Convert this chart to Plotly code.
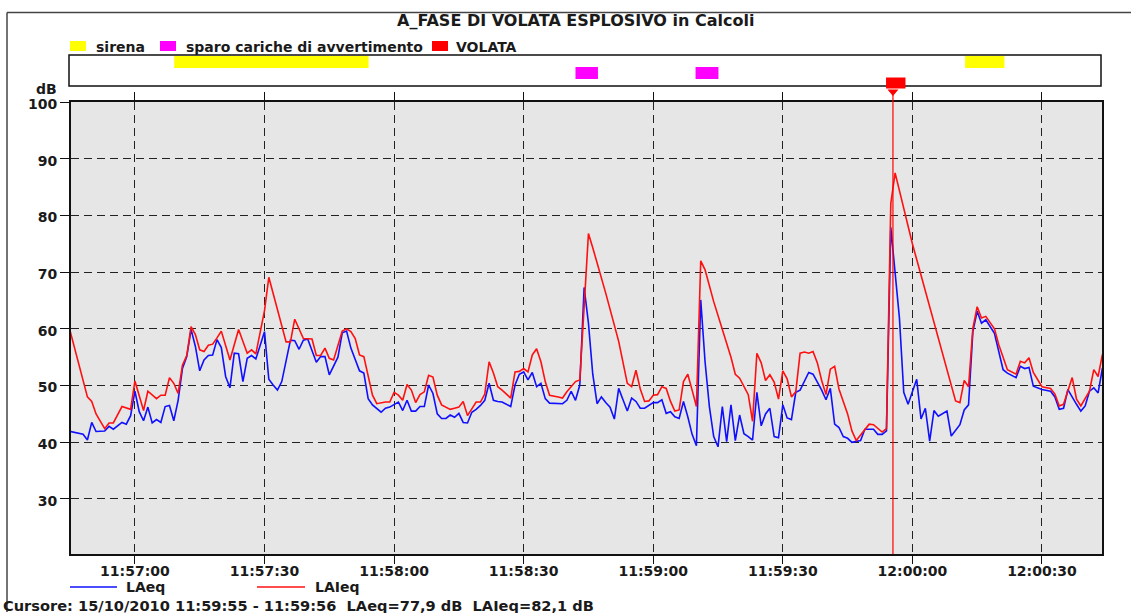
import plotly.graph_objects as go
import pandas as pd

# ---------------- data ----------------
BASE = "2010-10-15 11:57:00"          # time origin of the offsets below (seconds)

T_LAIEQ = [-15, -11, -10, -9, -7, -6, -5, -3, -1, 0, 2, 3, 5, 6, 7, 8, 9, 10, 11, 12, 13, 14, 15, 16, 17,
           18, 19, 20, 22, 24, 26, 27, 28, 30, 31, 35, 36, 37, 39, 41, 42, 43, 44, 45, 46, 48, 49, 50, 51,
           52, 53, 54, 55, 56, 58, 59, 60, 61, 62, 63, 64, 65, 66, 67, 68, 69, 70, 71, 73, 74, 75, 76, 77,
           78, 79, 80, 81, 82, 83, 84, 85, 87, 88, 89, 90, 91, 92, 93, 94, 95, 96, 98, 99, 100, 102, 103,
           105, 106, 109, 112, 114, 115, 116, 117, 118, 119, 120, 121, 122, 123, 124, 125, 126, 127, 128,
           129, 130, 131, 132, 134, 136, 138, 139, 140, 142, 143, 144, 145, 146, 147, 148, 149, 150, 151,
           152, 153, 154, 155, 156, 157, 158, 159, 160, 161, 162, 163, 165, 166, 167, 169, 170, 171, 173,
           174, 175, 176, 180, 190, 191, 192, 193, 194, 195, 196, 197, 199, 200, 202, 204, 205, 206, 207,
           208, 210, 212, 213, 214, 215, 217, 218, 219, 221, 222, 223, 224]
LAIEQ = [59.6, 48.0, 47.2, 45.0, 42.4, 43.4, 43.4, 46.3, 45.8, 50.8, 45.6, 49.0, 47.7, 48.3, 48.3, 51.4,
         50.4, 48.6, 53.6, 55.3, 60.4, 59.0, 56.3, 56.0, 57.1, 57.3, 58.4, 59.6, 54.5, 59.9, 55.7, 56.3,
         55.6, 63.2, 69.1, 57.7, 57.7, 61.7, 58.3, 58.2, 55.3, 55.3, 56.6, 54.8, 54.5, 59.6, 60.0, 59.5,
         58.3, 55.4, 55.1, 51.8, 48.3, 46.8, 47.1, 47.1, 48.8, 48.3, 47.4, 50.2, 49.2, 47.0, 48.4, 48.9,
         51.8, 51.5, 48.3, 46.6, 45.8, 46.0, 46.2, 47.2, 44.7, 45.9, 47.1, 47.1, 48.5, 54.2, 52.2, 49.8,
         49.2, 47.8, 52.4, 52.5, 53.0, 52.4, 55.4, 56.5, 54.2, 50.7, 48.3, 48.0, 47.8, 48.9, 50.7, 51.0,
         76.8, 74.3, 66.3, 57.8, 50.4, 49.8, 52.7, 49.4, 47.2, 47.3, 48.3, 48.4, 49.8, 49.5, 47.2, 45.5,
         45.7, 50.7, 52.0, 49.2, 46.3, 72.0, 70.4, 64.8, 59.8, 55.0, 52.0, 51.3, 48.4, 43.7, 55.7, 54.0,
         50.9, 51.9, 50.6, 47.6, 52.6, 51.2, 48.0, 48.9, 55.7, 55.9, 55.7, 56.0, 54.0, 50.9, 48.4, 52.9,
         53.4, 49.4, 45.0, 42.0, 40.3, 42.1, 43.2, 43.1, 41.8, 42.4, 82.1, 87.5, 75.0, 47.3, 47.0, 50.9,
         49.8, 60.1, 63.9, 61.9, 62.2, 60.0, 57.2, 52.8, 52.0, 54.3, 54.0, 54.9, 52.3, 49.8, 49.5, 48.5,
         46.4, 46.7, 51.4, 47.6, 46.4, 49.0, 52.8, 51.6, 55.5]

T_LAEQ = [-15, -12, -11, -10, -9, -7, -6, -5, -3, -2, -1, 0, 1, 2, 3, 4, 5, 6, 7, 8, 9, 10, 11, 12, 13, 14,
          15, 16, 17, 18, 19, 20, 21, 22, 23, 24, 25, 26, 27, 28, 30, 31, 32, 33, 34, 36, 37, 38, 39, 40,
          42, 43, 44, 45, 47, 48, 49, 50, 52, 53, 54, 55, 57, 58, 59, 60, 61, 62, 63, 64, 65, 66, 67, 68,
          69, 70, 71, 72, 73, 74, 75, 76, 77, 78, 79, 80, 81, 82, 83, 84, 85, 87, 88, 89, 90, 91, 92, 93,
          94, 95, 96, 99, 100, 101, 102, 103, 104, 105, 106, 107, 108, 109, 110, 111, 112, 113, 114, 115,
          116, 117, 118, 120, 121, 122, 123, 124, 125, 126, 127, 128, 129, 130, 131, 132, 133, 134, 135,
          136, 137, 138, 139, 140, 141, 142, 143, 144, 145, 146, 147, 148, 149, 150, 151, 152, 153, 154,
          155, 156, 157, 158, 159, 160, 161, 162, 163, 164, 165, 166, 167, 168, 169, 171, 172, 173, 174,
          175, 177, 178, 179, 181, 182, 183, 184, 185, 186, 188, 189, 191, 192, 193, 194, 195, 196, 197,
          199, 201, 202, 204, 205, 206, 207, 208, 210, 212, 213, 214, 215, 216, 218, 219, 220, 221, 222,
          223, 224]
LAEQ = [41.9, 41.4, 40.4, 43.5, 41.9, 42.0, 42.8, 42.3, 43.5, 43.2, 44.7, 49.0, 45.4, 43.8, 46.2, 43.4,
        44.0, 43.5, 46.3, 46.5, 43.8, 47.4, 53.0, 55.1, 59.9, 56.9, 52.6, 54.5, 55.3, 55.4, 58.1, 56.7,
        51.6, 49.6, 55.7, 55.6, 50.7, 54.8, 55.3, 54.7, 59.5, 51.1, 50.1, 49.2, 50.7, 58.0, 57.9, 56.4,
        58.0, 58.2, 54.1, 55.1, 55.1, 51.9, 55.0, 59.3, 59.6, 56.6, 52.6, 52.2, 47.7, 46.6, 45.3, 46.0,
        46.2, 46.6, 47.1, 45.6, 47.4, 45.5, 45.5, 46.3, 46.3, 50.1, 48.6, 45.0, 44.2, 44.2, 44.8, 44.4,
        45.1, 43.5, 43.4, 45.3, 45.8, 46.5, 47.4, 50.4, 47.4, 47.2, 47.1, 46.3, 50.1, 52.0, 52.4, 51.0,
        52.3, 49.8, 50.4, 47.7, 46.9, 46.8, 47.4, 49.0, 47.4, 50.1, 67.3, 61.0, 52.0, 46.8, 48.0, 47.0,
        46.2, 44.1, 49.5, 47.5, 45.5, 47.8, 47.2, 46.0, 46.0, 47.0, 47.0, 47.5, 45.1, 45.4, 44.5, 44.2,
        47.2, 44.5, 41.4, 39.4, 65.1, 54.2, 46.3, 41.0, 39.2, 46.3, 40.1, 46.6, 40.3, 44.8, 41.5, 41.0,
        40.4, 48.8, 42.9, 45.0, 46.0, 41.0, 40.8, 46.6, 44.3, 44.0, 48.8, 49.2, 50.7, 52.3, 52.0, 50.7,
        49.2, 47.5, 49.5, 43.2, 42.6, 41.0, 40.7, 40.0, 40.1, 40.3, 42.3, 42.3, 41.4, 41.4, 42.0, 77.9,
        61.9, 48.8, 46.7, 51.1, 44.1, 46.0, 40.2, 45.6, 44.6, 45.5, 41.1, 43.1, 45.7, 46.6, 59.5, 63.1,
        61.0, 61.6, 59.2, 52.8, 52.2, 51.4, 53.4, 53.0, 53.2, 49.9, 49.3, 49.0, 48.0, 45.8, 46.0, 49.3,
        46.7, 45.5, 46.4, 49.0, 49.6, 48.7, 53.1]

X_RANGE_S = [-14.8, 223.9]
Y_RANGE = [20.3, 100]
Y_TICKS = [30, 40, 50, 60, 70, 80, 90, 100]

EVENT_TYPES = ["sirena", "sparo cariche di avvertimento", "VOLATA"]
EVENT_COLORS = ["#ffff00", "#ff00ff", "#ff0000"]
EVENT_KIND = [0, 1, 1, 2, 0]
EVENT_START = [9.1, 102.0, 129.8, 173.9, 192.2]
EVENT_END = [54.1, 107.2, 135.1, 178.4, 201.3]

CURSOR_S = 175.5
TITLE = "A_FASE DI VOLATA ESPLOSIVO in Calcoli"
CURSOR_TEXT = ("Cursore: 15/10/2010 11:59:55 - 11:59:56\u00a0\u00a0LAeq=77,9 dB"
               "\u00a0\u00a0LAIeq=82,1 dB")
SERIES_NAMES = ["LAeq", "LAIeq"]
SERIES_COLORS = ["#1010ff", "#ff1010"]

# ---------------- helpers ----------------
W, H = 1132, 613
ML, MR, MT, MB = 71, 30, 102, 59
PW, PH = W - ML - MR, H - MT - MB
base = pd.Timestamp(BASE)


def tt(s):
    return base + pd.to_timedelta(s, unit="s")


def px2x(px):
    return (px - ML) / PW


def py2y(py):
    return (H - MB - py) / PH


def s2x(s):
    return (s - X_RANGE_S[0]) / (X_RANGE_S[1] - X_RANGE_S[0])


FONT = "DejaVu Sans"
TXT = "#1a1a1a"

fig = go.Figure()
fig.add_trace(go.Scatter(x=[tt(s) for s in T_LAEQ], y=LAEQ, mode="lines",
                         line=dict(color=SERIES_COLORS[0], width=1.6), name=SERIES_NAMES[0]))
fig.add_trace(go.Scatter(x=[tt(s) for s in T_LAIEQ], y=LAIEQ, mode="lines",
                         line=dict(color=SERIES_COLORS[1], width=1.6), name=SERIES_NAMES[1]))

shapes = []
annotations = []

# outer frame (top and left edges)
shapes.append(dict(type="line", xref="paper", yref="paper", x0=px2x(7), x1=px2x(1131),
                   y0=py2y(12.5), y1=py2y(12.5), line=dict(color="#444", width=1.5)))
shapes.append(dict(type="line", xref="paper", yref="paper", x0=px2x(7), x1=px2x(7),
                   y0=py2y(12.5), y1=py2y(612), line=dict(color="#444", width=1.5)))

# event strip box
shapes.append(dict(type="rect", xref="paper", yref="paper", x0=px2x(69), x1=px2x(1101),
                   y0=py2y(86), y1=py2y(55), line=dict(color="#111", width=1.5),
                   fillcolor="white", layer="below"))
ROW_PX = [(56, 68), (67, 79), (77.5, 88.5)]
for k, s0, s1 in zip(EVENT_KIND, EVENT_START, EVENT_END):
    r0, r1 = ROW_PX[k]
    shapes.append(dict(type="rect", xref="x", yref="paper", x0=tt(s0), x1=tt(s1),
                       y0=py2y(r1), y1=py2y(r0), line=dict(width=0),
                       fillcolor=EVENT_COLORS[k]))

# cursor line + small triangle marker under the event strip
shapes.append(dict(type="line", xref="x", yref="paper", x0=tt(CURSOR_S), x1=tt(CURSOR_S),
                   y0=0, y1=py2y(90), line=dict(color="#ff0000", width=1.2)))
cx = s2x(CURSOR_S)
dx = 5.5 / PW
shapes.append(dict(type="path", xref="paper", yref="paper",
                   path=f"M {cx - dx},{py2y(89.5)} L {cx + dx},{py2y(89.5)} L {cx},{py2y(96)} Z",
                   fillcolor="#ff0000", line=dict(width=0)))

# top legend (event types)
LEG_SQ = [70, 160, 432]
LEG_TX = [94, 184, 454]
for name, col, sq, tx in zip(EVENT_TYPES, EVENT_COLORS, LEG_SQ, LEG_TX):
    shapes.append(dict(type="rect", xref="paper", yref="paper", x0=px2x(sq), x1=px2x(sq + 16),
                       y0=py2y(51), y1=py2y(41), line=dict(width=0), fillcolor=col))
    annotations.append(dict(xref="paper", yref="paper", x=px2x(tx), y=py2y(46.5), text=name,
                            showarrow=False, xanchor="left", yanchor="middle",
                            font=dict(family=FONT, size=14, color=TXT, weight="bold")))

# bottom legend (series)
BL_LINE = [(70, 117), (257, 305)]
BL_TX = [124, 313]
for name, col, (a, b), tx in zip(SERIES_NAMES, SERIES_COLORS, BL_LINE, BL_TX):
    shapes.append(dict(type="line", xref="paper", yref="paper", x0=px2x(a), x1=px2x(b),
                       y0=py2y(587), y1=py2y(587), line=dict(color=col, width=1.5)))
    annotations.append(dict(xref="paper", yref="paper", x=px2x(tx), y=py2y(587), text=name,
                            showarrow=False, xanchor="left", yanchor="middle",
                            font=dict(family=FONT, size=14, color=TXT, weight="bold")))

# title, unit, cursor text
annotations.append(dict(xref="paper", yref="paper", x=px2x(575), y=py2y(20), text=TITLE,
                        showarrow=False, xanchor="center", yanchor="middle",
                        font=dict(family=FONT, size=16, color=TXT, weight="bold")))
annotations.append(dict(xref="paper", yref="paper", x=px2x(59), y=py2y(89), text="dB",
                        showarrow=False, xanchor="right", yanchor="middle",
                        font=dict(family=FONT, size=14, color=TXT, weight="bold")))
annotations.append(dict(xref="paper", yref="paper", x=px2x(1), y=py2y(605.5), text=CURSOR_TEXT,
                        showarrow=False, xanchor="left", yanchor="middle",
                        font=dict(family=FONT, size=14.6, color=TXT, weight="bold")))

fig.update_layout(
    width=W, height=H,
    margin=dict(l=ML, r=MR, t=MT, b=MB, pad=0),
    paper_bgcolor="white", plot_bgcolor="#e6e6e6",
    showlegend=False,
    shapes=shapes, annotations=annotations,
    font=dict(family=FONT, size=14, color=TXT),
)
fig.update_xaxes(
    type="date", range=[tt(X_RANGE_S[0]), tt(X_RANGE_S[1])],
    tick0=BASE, dtick=30000, tickformat="%H:%M:%S",
    showgrid=True, gridcolor="#222", gridwidth=1.2, griddash="8px,5px",
    showline=True, linecolor="#111", linewidth=2, mirror="ticks",
    ticks="outside", ticklen=8, tickcolor="#111", tickwidth=1.3,
    ticklabelstandoff=-5,
    tickfont=dict(family=FONT, size=14, color=TXT, weight="bold"),
    zeroline=False, fixedrange=True,
)
fig.update_yaxes(
    range=Y_RANGE, tickvals=Y_TICKS,
    showgrid=True, gridcolor="#222", gridwidth=1.2, griddash="8px,5px",
    showline=True, linecolor="#111", linewidth=2, mirror=True,
    ticks="outside", ticklen=9, tickcolor="#111", tickwidth=1.3,
    ticklabelshift=2,
    tickfont=dict(family=FONT, size=14, color=TXT, weight="bold"),
    zeroline=False, fixedrange=True,
)

fig.write_html("out.html",
               config={"displayModeBar": False},
               post_script="document.body.style.margin='0';"
                           "document.body.style.overflow='hidden';")
